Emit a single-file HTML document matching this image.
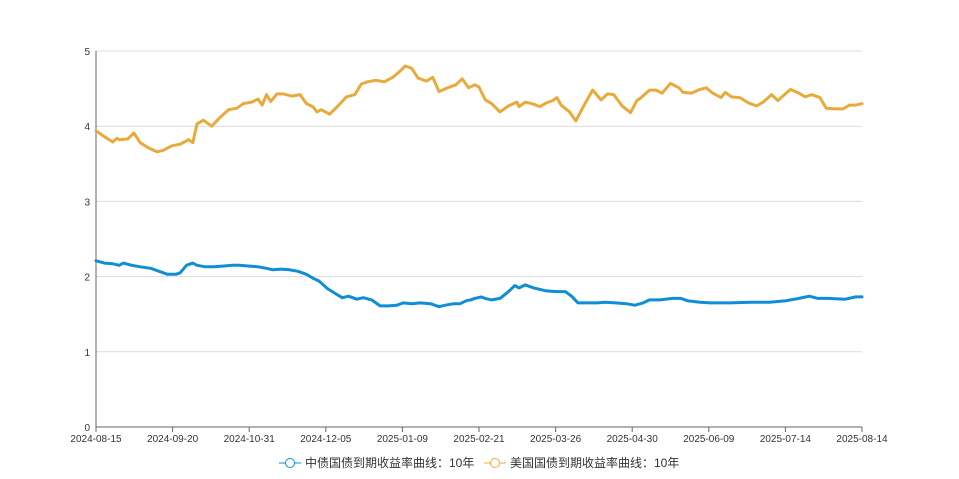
<!DOCTYPE html>
<html><head><meta charset="utf-8"><style>
html,body{margin:0;padding:0;background:#fff;}
svg{display:block;font-family:"Liberation Sans","Noto Sans CJK SC",sans-serif;}
</style></head><body>
<svg id="chart" width="959" height="479"></svg>
<script>
const xTickLabels=["2024-08-15","2024-09-20","2024-10-31","2024-12-05","2025-01-09","2025-02-21","2025-03-26","2025-04-30","2025-06-09","2025-07-14","2025-08-14"];
const yTicks=[0,1,2,3,4,5];
const usDays=[0,4,8,10,11,15,18,21,25,29,32,36,40,44,46,48,51,55,59,63,67,70,74,77,79,81,83,86,89,93,97,100,103,105,107,111,115,119,123,126,129,133,137,141,144,147,150,153,157,160,163,167,171,174,177,180,182,185,188,192,196,200,201,204,207,211,214,217,219,221,225,228,232,236,240,243,246,250,254,257,259,263,266,269,273,277,279,283,287,290,293,297,299,302,306,310,314,317,321,324,328,330,334,337,340,344,347,351,355,358,361,364];
const usVals=[3.94,3.86,3.79,3.84,3.82,3.83,3.91,3.78,3.71,3.66,3.68,3.74,3.76,3.82,3.78,4.03,4.08,4.00,4.12,4.22,4.24,4.30,4.32,4.36,4.28,4.42,4.33,4.43,4.43,4.40,4.42,4.30,4.26,4.19,4.22,4.16,4.27,4.39,4.42,4.56,4.59,4.61,4.59,4.65,4.72,4.80,4.77,4.64,4.60,4.65,4.46,4.51,4.55,4.63,4.51,4.55,4.52,4.35,4.30,4.19,4.27,4.32,4.26,4.32,4.30,4.26,4.31,4.34,4.38,4.28,4.19,4.07,4.28,4.48,4.35,4.43,4.42,4.27,4.18,4.34,4.38,4.48,4.48,4.44,4.57,4.51,4.45,4.44,4.49,4.51,4.44,4.38,4.45,4.39,4.38,4.31,4.27,4.32,4.42,4.34,4.44,4.49,4.44,4.39,4.42,4.38,4.24,4.23,4.23,4.28,4.28,4.30];
const cnDays=[0,4,8,11,13,17,21,26,30,34,38,40,43,46,48,52,56,60,65,68,73,77,81,84,88,92,96,100,103,106,110,114,117,120,124,127,131,135,139,143,146,150,154,159,163,166,170,173,176,178,180,183,185,188,192,196,199,201,204,208,214,219,223,226,229,233,238,242,247,252,256,260,263,268,274,278,281,287,292,301,311,320,328,334,339,343,348,356,361,364];
const cnVals=[2.21,2.18,2.17,2.15,2.18,2.15,2.13,2.11,2.07,2.03,2.03,2.05,2.15,2.18,2.15,2.13,2.13,2.14,2.15,2.15,2.14,2.13,2.11,2.09,2.10,2.09,2.07,2.03,1.98,1.94,1.84,1.77,1.72,1.74,1.70,1.72,1.69,1.61,1.61,1.62,1.65,1.64,1.65,1.64,1.60,1.62,1.64,1.64,1.68,1.69,1.71,1.73,1.71,1.69,1.71,1.80,1.88,1.85,1.89,1.85,1.81,1.80,1.80,1.74,1.65,1.65,1.65,1.66,1.65,1.64,1.62,1.65,1.69,1.69,1.71,1.71,1.68,1.66,1.65,1.65,1.66,1.66,1.68,1.71,1.74,1.71,1.71,1.70,1.73,1.73];
const X0=96,X1=862,Y0=427,Y5=51,DMAX=364;
const xs=d=>X0+(X1-X0)*d/DMAX;
const ys=v=>Y0-(Y0-Y5)*v/5;
const NS="http://www.w3.org/2000/svg";
const svg=document.getElementById('chart');
function mk(t,a){const e=document.createElementNS(NS,t);for(const k in a)e.setAttribute(k,a[k]);svg.appendChild(e);return e;}
yTicks.forEach(v=>{
  if(v>0){const g=mk('line',{x1:X0,x2:X1,y1:ys(v),y2:ys(v),stroke:'#dcdcdc','stroke-width':1});
  
  }
  const t=mk('text',{x:X0-6,y:ys(v)+4,'text-anchor':'end','font-size':10,fill:'#333'});
  t.textContent=v;
  
  
});
const ax=mk('line',{x1:X0,x2:X0,y1:Y5,y2:Y0,stroke:'#666','stroke-width':1});


const bx=mk('line',{x1:X0,x2:X1,y1:Y0,y2:Y0,stroke:'#666','stroke-width':1});


xTickLabels.forEach((s,i)=>{
  const x=X0+(X1-X0)*i/(xTickLabels.length-1);
  const tk=mk('line',{x1:x,x2:x,y1:Y0,y2:Y0+5,stroke:'#666'});
  
  
  const t=mk('text',{x:x,y:Y0+15,'text-anchor':'middle','font-size':10,fill:'#333'});
  t.textContent=s;
  
  
});
function series(days,vals,color,name){
  const d=days.map((x,i)=>(i?'L':'M')+xs(x).toFixed(1)+','+ys(vals[i]).toFixed(1)).join('');
  const p=mk('path',{d:d,fill:'none',stroke:color,'stroke-width':3,'stroke-linejoin':'round','stroke-linecap':'round'});
  
  
}
series(usDays,usVals,'#e8ab3b','us-10y-line');
series(cnDays,cnVals,'#0f8dd5','cn-10y-line');
function legend(x,color,label,name){
  const l=mk('line',{x1:x,x2:x+22,y1:463,y2:463,stroke:color,'stroke-width':1});
  
  
  const c=mk('circle',{cx:x+11,cy:463,r:4.5,fill:'#fff',stroke:color,'stroke-width':1});
  
  
  const t=mk('text',{x:x+26,y:467,'font-size':12,fill:'#333'});
  t.textContent=label;
  
  
}
legend(279,'#0f8dd5','中债国债到期收益率曲线：10年','legend-cn');
legend(484,'#e8ab3b','美国国债到期收益率曲线：10年','legend-us');
</script>
</body></html>
